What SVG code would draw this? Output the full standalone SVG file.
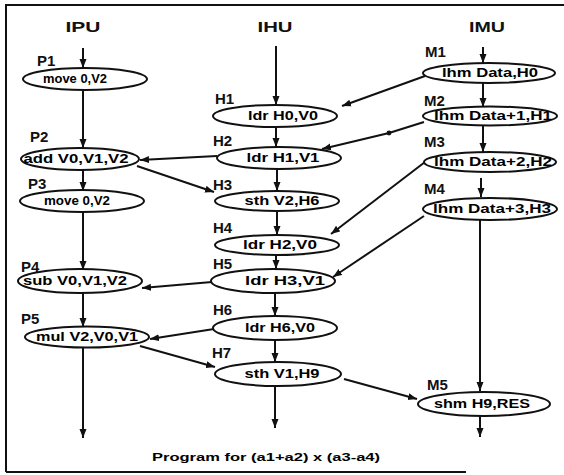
<svg xmlns="http://www.w3.org/2000/svg" width="564" height="475" viewBox="0 0 564 475">
<style>
.frame{fill:none;stroke:#111;stroke-width:2}
.node ellipse{fill:#fff;stroke:#111;stroke-width:2}
.node .op{font-family:"Liberation Sans",Arial,sans-serif;font-weight:bold;font-size:12px;fill:#000;text-anchor:middle;dominant-baseline:central}
.node .lbl{font-family:"Liberation Sans",Arial,sans-serif;font-weight:bold;font-size:15px;fill:#111}
.hdr{font-family:"Liberation Sans",Arial,sans-serif;font-weight:bold;font-size:14px;fill:#111;text-anchor:middle}
.cap{font-family:"Liberation Sans",Arial,sans-serif;font-weight:bold;font-size:11px;fill:#000;text-anchor:middle}
#connectors line,#connectors polyline{stroke:#111;stroke-width:2;fill:none;marker-end:url(#ah)}
</style>
<defs>
<marker id="ah" markerUnits="userSpaceOnUse" markerWidth="10" markerHeight="8" refX="9" refY="4" orient="auto">
<path d="M0,0.5 L9,4 L0,7.5 Z" fill="#111"/>
</marker>
</defs>
<rect width="564" height="475" fill="#fff"/>
<path class="frame" d="M6,472 L6,5 L564,5 M6,472 L466,472"/>
<text class="hdr" x="83" y="32" textLength="35" lengthAdjust="spacingAndGlyphs">IPU</text>
<text class="hdr" x="275" y="32" textLength="35" lengthAdjust="spacingAndGlyphs">IHU</text>
<text class="hdr" x="487" y="32" textLength="36" lengthAdjust="spacingAndGlyphs">IMU</text>

<g id="connectors">
<line x1="83" y1="48" x2="83" y2="68"/>
<line x1="83" y1="89" x2="83" y2="148"/>
<line x1="83" y1="170" x2="83" y2="191"/>
<line x1="83" y1="212" x2="83" y2="270"/>
<line x1="83" y1="293" x2="83" y2="327"/>
<line x1="83" y1="347" x2="83" y2="438"/>
<line x1="276" y1="46" x2="276" y2="105"/>
<line x1="276" y1="127" x2="276" y2="147"/>
<line x1="277" y1="169" x2="277" y2="191"/>
<line x1="277" y1="211" x2="277" y2="235"/>
<line x1="276" y1="255" x2="276" y2="269"/>
<line x1="275" y1="293" x2="275" y2="316"/>
<line x1="275" y1="340" x2="275" y2="362"/>
<line x1="275" y1="386" x2="275" y2="428"/>
<line x1="483" y1="47" x2="483" y2="63"/>
<line x1="483" y1="82" x2="483" y2="107"/>
<line x1="483" y1="125" x2="483" y2="152"/>
<line x1="481" y1="178" x2="481" y2="197"/>
<line x1="480" y1="220" x2="480" y2="391"/>
<line x1="480" y1="416" x2="480" y2="437"/>
<line x1="425" y1="76" x2="342" y2="106"/>
<polyline points="424,122 389,133 322,149"/>
<circle cx="389" cy="133" r="2.4" fill="#111"/>
<line x1="217" y1="156" x2="140" y2="160"/>
<line x1="137" y1="166" x2="214" y2="192"/>
<line x1="425" y1="162" x2="331" y2="234"/>
<line x1="424" y1="216" x2="333" y2="277"/>
<line x1="212" y1="282" x2="142" y2="288"/>
<line x1="214" y1="329" x2="150" y2="339"/>
<line x1="140" y1="346" x2="215" y2="367"/>
<line x1="344" y1="379" x2="417" y2="399"/>
</g>

<g id="P1" class="node"><ellipse cx="85" cy="79" rx="62" ry="11"/><text class="op" x="75" y="79" textLength="64" lengthAdjust="spacingAndGlyphs">move 0,V2</text><text class="lbl" x="37" y="66">P1</text></g>
<g id="P2" class="node"><ellipse cx="80" cy="159" rx="59" ry="11"/><text class="op" x="76" y="159" textLength="105" lengthAdjust="spacingAndGlyphs">add V0,V1,V2</text><text class="lbl" x="30" y="142">P2</text></g>
<g id="P3" class="node"><ellipse cx="82" cy="201" rx="62" ry="11"/><text class="op" x="77" y="201" textLength="66" lengthAdjust="spacingAndGlyphs">move 0,V2</text><text class="lbl" x="28" y="189">P3</text></g>
<g id="P4" class="node"><ellipse cx="80" cy="281" rx="62" ry="12"/><text class="op" x="75" y="281" textLength="104" lengthAdjust="spacingAndGlyphs">sub V0,V1,V2</text><text class="lbl" x="21" y="272">P4</text></g>
<g id="P5" class="node"><ellipse cx="87" cy="337" rx="62" ry="10.5"/><text class="op" x="87" y="337" textLength="102" lengthAdjust="spacingAndGlyphs">mul  V2,V0,V1</text><text class="lbl" x="21" y="324">P5</text></g>

<g id="H1" class="node"><ellipse cx="275" cy="116" rx="62" ry="11"/><text class="op" x="283" y="116" textLength="70" lengthAdjust="spacingAndGlyphs">ldr H0,V0</text><text class="lbl" x="215" y="104">H1</text></g>
<g id="H2" class="node"><ellipse cx="279" cy="158" rx="62" ry="11"/><text class="op" x="283" y="158" textLength="73" lengthAdjust="spacingAndGlyphs">ldr  H1,V1</text><text class="lbl" x="213" y="146">H2</text></g>
<g id="H3" class="node"><ellipse cx="277" cy="201" rx="62" ry="10"/><text class="op" x="282" y="201" textLength="75" lengthAdjust="spacingAndGlyphs">sth  V2,H6</text><text class="lbl" x="213" y="190">H3</text></g>
<g id="H4" class="node"><ellipse cx="277" cy="245" rx="62" ry="10"/><text class="op" x="280" y="245" textLength="74" lengthAdjust="spacingAndGlyphs">ldr H2,V0</text><text class="lbl" x="213" y="233">H4</text></g>
<g id="H5" class="node"><ellipse cx="273" cy="281" rx="62" ry="12"/><text class="op" x="285" y="281" textLength="80" lengthAdjust="spacingAndGlyphs">ldr  H3,V1</text><text class="lbl" x="213" y="269">H5</text></g>
<g id="H6" class="node"><ellipse cx="275" cy="328" rx="62" ry="12"/><text class="op" x="280" y="328" textLength="70" lengthAdjust="spacingAndGlyphs">ldr H6,V0</text><text class="lbl" x="213" y="315">H6</text></g>
<g id="H7" class="node"><ellipse cx="278" cy="374" rx="63" ry="12"/><text class="op" x="282" y="374" textLength="75" lengthAdjust="spacingAndGlyphs">sth V1,H9</text><text class="lbl" x="212" y="358">H7</text></g>

<g id="M1" class="node"><ellipse cx="489" cy="73" rx="66" ry="10"/><text class="op" x="490" y="73" textLength="96" lengthAdjust="spacingAndGlyphs">lhm Data,H0</text><text class="lbl" x="425" y="57">M1</text></g>
<g id="M2" class="node"><ellipse cx="490" cy="116" rx="67" ry="9.5"/><text class="op" x="493" y="116" textLength="118" lengthAdjust="spacingAndGlyphs">lhm  Data+1,H1</text><text class="lbl" x="424" y="106">M2</text></g>
<g id="M3" class="node"><ellipse cx="490" cy="162" rx="66" ry="10"/><text class="op" x="493" y="162" textLength="118" lengthAdjust="spacingAndGlyphs">lhm  Data+2,H2</text><text class="lbl" x="424" y="147">M3</text></g>
<g id="M4" class="node"><ellipse cx="490" cy="209" rx="67" ry="11"/><text class="op" x="492" y="209" textLength="118" lengthAdjust="spacingAndGlyphs">lhm Data+3,H3</text><text class="lbl" x="424" y="194">M4</text></g>
<g id="M5" class="node"><ellipse cx="484" cy="404" rx="66" ry="12"/><text class="op" x="482" y="404" textLength="96" lengthAdjust="spacingAndGlyphs">shm H9,RES</text><text class="lbl" x="427" y="390">M5</text></g>

<text class="cap" x="266" y="461" textLength="228" lengthAdjust="spacingAndGlyphs">Program for  (a1+a2) x (a3-a4)</text>
</svg>
